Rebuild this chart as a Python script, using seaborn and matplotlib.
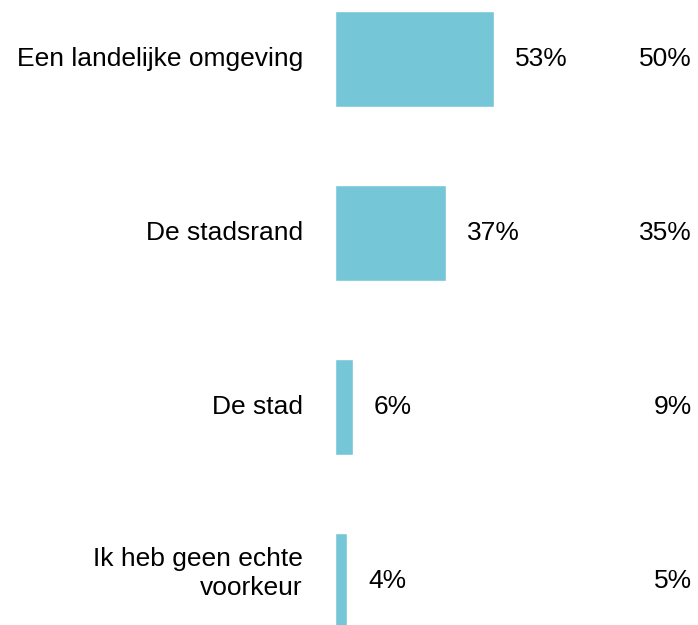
import matplotlib
matplotlib.use("Agg")
import matplotlib.pyplot as plt
import seaborn as sns
import pandas as pd

categories = ["Een landelijke omgeving", "De stadsrand", "De stad", "Ik heb geen echte\nvoorkeur"]
values = [53, 37, 6, 4]
comparison = [50, 35, 9, 5]

sns.set_theme(style="white")
plt.rcParams['font.family'] = ['Liberation Sans', 'DejaVu Sans']

df = pd.DataFrame({"cat": categories, "val": values})

fig = plt.figure(figsize=(6.98, 6.25), dpi=100)
ax = fig.add_axes([0, 0, 1, 1])
sns.barplot(data=df, x="val", y="cat", orient="h", color="#75C7D8", saturation=1,
            width=96/174, ax=ax)

ax.set_xlim(-335/3, (698-335)/3)
ax.set_ylim((625-59)/174, -59/174)
ax.axis("off")

fs = 19
for i, (c, v, p) in enumerate(zip(categories, values, comparison)):
    dy = -0.045 if "\n" in c else 0
    ax.text(-10.7, i + dy, c, ha="right", va="center", fontsize=fs, color="black",
            linespacing=1.27)
    ax.text(v + 7, i, f"{v}%", ha="left", va="center", fontsize=fs, color="black")
    ax.text(119, i, f"{p}%", ha="right", va="center", fontsize=fs, color="black")

fig.savefig("out.png", dpi=100)
